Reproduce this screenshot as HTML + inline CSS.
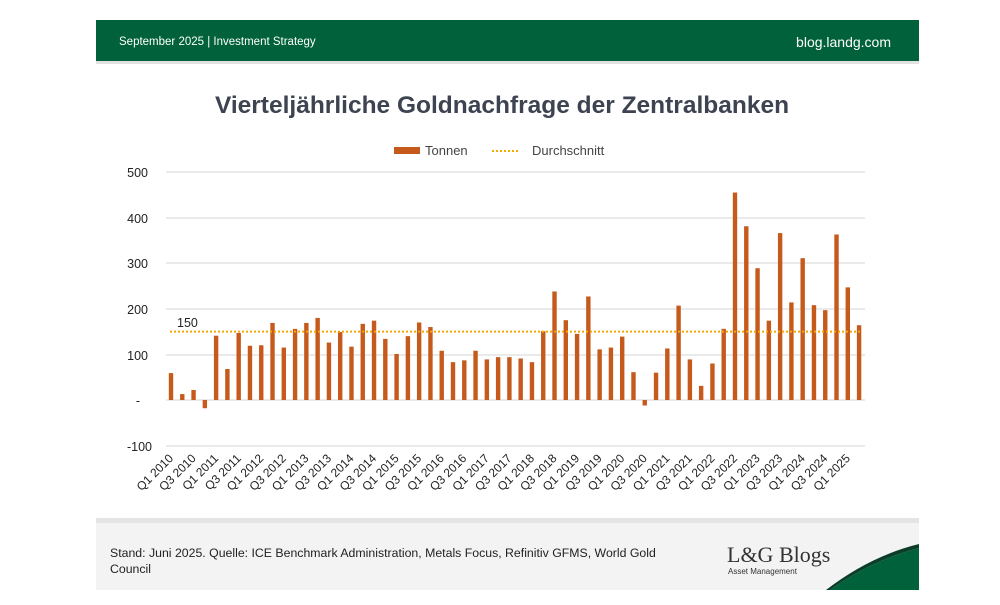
<!DOCTYPE html>
<html><head><meta charset="utf-8"><style>
body{margin:0;width:1000px;height:600px;background:#fff;overflow:hidden;font-family:"Liberation Sans",sans-serif}
</style></head><body>
<svg width="1000" height="600" viewBox="0 0 1000 600" xmlns="http://www.w3.org/2000/svg" font-family="Liberation Sans, sans-serif">
<rect x="96" y="20" width="823" height="41" fill="#00613a"/>
<rect x="96" y="61" width="823" height="3" fill="#e2e2e2"/>
<text x="119" y="45" font-size="11.5" fill="#fff" font-family="Liberation Sans Narrow, Liberation Sans, sans-serif">September 2025 | Investment Strategy</text>
<text x="891" y="47" font-size="14" fill="#fff" text-anchor="end">blog.landg.com</text>
<text x="502" y="113" font-size="24.5" font-weight="bold" fill="#3d4351" text-anchor="middle">Vierteljährliche Goldnachfrage der Zentralbanken</text>
<rect x="394" y="147" width="26" height="7" fill="#c55a1c"/>
<text x="425" y="155" font-size="13" fill="#444">Tonnen</text>
<line x1="492" y1="151" x2="520" y2="151" stroke="#f5a800" stroke-width="2" stroke-dasharray="2,2"/>
<text x="532" y="155" font-size="13" fill="#444">Durchschnitt</text>
<g stroke="#dedede" stroke-width="1.3">
<line x1="166" y1="172" x2="865" y2="172"/><line x1="166" y1="218" x2="865" y2="218"/>
<line x1="166" y1="263" x2="865" y2="263"/><line x1="166" y1="309" x2="865" y2="309"/>
<line x1="166" y1="355" x2="865" y2="355"/><line x1="166" y1="400" x2="865" y2="400"/>
<line x1="166" y1="446" x2="865" y2="446"/>
</g>
<g font-size="12.5" fill="#222" text-anchor="end">
<text x="148" y="177">500</text><text x="148" y="223">400</text><text x="148" y="268">300</text>
<text x="148" y="314">200</text><text x="148" y="360">100</text><text x="140" y="405">-</text>
<text x="152" y="451">-100</text>
</g>
<g id="bars" fill="#c55a1c"></g>
<line x1="170" y1="331.6" x2="862" y2="331.6" stroke="#f5a800" stroke-width="2" stroke-dasharray="2,2"/>
<text x="177" y="327" font-size="12.5" fill="#222">150</text>
<g id="labels" font-size="12" fill="#222" text-anchor="end"></g>
<rect x="96" y="518" width="823" height="5" fill="#e4e4e4"/>
<rect x="96" y="523" width="823" height="67" fill="#f3f3f3"/>
<path d="M830 590 Q872 560 919 548 L919 590 Z" fill="#00613a"/>
<path d="M826 590 Q870 556 919 544 L919 548 Q872 560 830 590Z" fill="#0b3d2a"/>
<text x="110" y="557" font-size="12.3" fill="#222" font-family="Liberation Sans Narrow, Liberation Sans, sans-serif">Stand: Juni 2025. Quelle: ICE Benchmark Administration, Metals Focus, Refinitiv GFMS, World Gold</text>
<text x="110" y="573" font-size="12.3" fill="#222" font-family="Liberation Sans Narrow, Liberation Sans, sans-serif">Council</text>
<text x="727" y="562" font-size="22" fill="#333" font-family="Liberation Serif, serif">L&amp;G Blogs</text>
<text x="728" y="574" font-size="8" fill="#333">Asset Management</text>
</svg>
<script>
var v=[59,13,22,-18,141,68,147,119,120,169,115,156,169,180,126,149,117,167,174,134,101,140,170,160,108,83,87,108,89,94,94,91,83,151,238,175,145,227,111,115,139,61,-12,60,113,207,89,31,80,156,455,381,289,174,366,214,311,208,197,363,247,164];
var ns="http://www.w3.org/2000/svg",b=document.getElementById('bars'),l=document.getElementById('labels');
for(var i=0;i<v.length;i++){var x=171+i*11.28,h=v[i]*0.456,r=document.createElementNS(ns,'rect');
r.setAttribute('x',x-2.2);r.setAttribute('width',4.4);r.setAttribute('y',h>=0?400-h:400);r.setAttribute('height',Math.abs(h));b.appendChild(r);
if(i%2==0){var t=document.createElementNS(ns,'text');t.setAttribute('transform','translate('+(x+3)+',459) rotate(-45)');
t.textContent='Q'+(i%4+1)+' '+(2010+Math.floor(i/4));l.appendChild(t);}}
</script>
</body></html>
